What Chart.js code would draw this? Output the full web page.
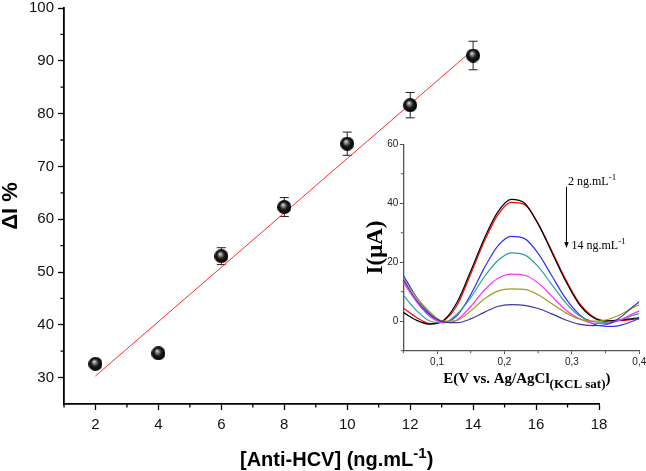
<!DOCTYPE html>
<html>
<head>
<meta charset="utf-8">
<script src="https://cdn.jsdelivr.net/npm/chart.js@4.4.1/dist/chart.umd.min.js"></script>
<style>
  body { margin: 0; background: #fff; }
  #wrap { position: relative; width: 646px; height: 471px; }
  #main { position: absolute; left: 0; top: 0; }
  #inset { position: absolute; left: 330px; top: 130px; }
</style>
</head>
<body>
<div id="wrap">
  <canvas id="main" width="646" height="471"></canvas>
  <canvas id="inset" width="316" height="275"></canvas>
</div>
<script>
// main plot: calibration
const conc = [2, 4, 6, 8, 10, 12, 14];
const deltaI = [32.6, 34.6, 53.0, 62.3, 74.3, 81.6, 91.0];
const errI = [0.5, 0.5, 1.6, 1.8, 2.2, 2.4, 2.7];
const fitX = [2, 14];
const fitY = [30.3, 92.1];
const xTicks = [2, 4, 6, 8, 10, 12, 14, 16, 18];
const xMinor = [1, 3, 5, 7, 9, 11, 13, 15, 17];
const yTicks = [30, 40, 50, 60, 70, 80, 90, 100];
const yMinor = [35, 45, 55, 65, 75, 85, 95];

// inset: DPV curves
const potential = [0.05, 0.07, 0.09, 0.11, 0.13, 0.15, 0.17, 0.19, 0.21, 0.23, 0.25, 0.27, 0.29, 0.31, 0.33, 0.35, 0.37, 0.39, 0.40];
const curBlack   = [3, 0.3, -1, 0.3, 6.5, 17, 28, 37, 41.3, 40, 33, 23.5, 14, 6, 1.5, 0, 0.4, 0.9, 1.2];
const curRed     = [4.5, 1.2, -0.8, 0.2, 5.5, 16, 27, 36, 40.3, 39.5, 33, 24, 14.5, 6.5, 1.8, 0.2, 0.2, 0.6, 0.9];
const curBlue    = [15.6, 8, 2.5, -0.3, 2, 9, 18, 25.5, 28.8, 28, 23, 15.5, 8, 2.5, -0.8, -1.8, -1.5, 0, 1];
const curTeal    = [8.8, 3.5, 0, -0.5, 2.5, 8, 15, 20.5, 23.2, 22.5, 18.5, 12.5, 6.5, 2, 0, -0.4, 0.3, 2, 2.6];
const curMagenta = [13.1, 6.5, 1.5, -0.5, 0.5, 5, 10.5, 14.5, 16, 15.6, 13, 8.5, 4, 1, -0.6, -0.8, 0.3, 2.5, 3.5];
const curOlive   = [14.5, 8, 3, 0, 0.3, 3.5, 7.5, 10.2, 11, 10.8, 9, 6, 3, 0.8, 0, 0.4, 2, 4.5, 5.6];
const curNavy    = [14, 7, 2, -0.2, -0.5, 0.8, 3, 5, 5.6, 5.4, 4.3, 2.5, 0.5, -1, -1.5, -1.2, 1, 4.8, 6.6];
const insetXTicks = [0.1, 0.2, 0.3, 0.4];
const insetXMinor = [0.05, 0.15, 0.25, 0.35];
const insetYTicks = [0, 20, 40, 60];
const insetYMinor = [-10, 10, 30, 50];

const SANS = '"Liberation Sans", Arial, sans-serif';
const SERIF = '"Liberation Serif", "Times New Roman", serif';

function makeSphere(r) {
    const c = document.createElement('canvas');
    c.width = c.height = r * 2;
    const g = c.getContext('2d');
    const grad = g.createRadialGradient(r * 0.8, r * 0.65, 0, r, r, r);
    grad.addColorStop(0, '#f2f2f2');
    grad.addColorStop(0.22, '#909090');
    grad.addColorStop(0.55, '#1a1a1a');
    grad.addColorStop(1, '#000');
    g.fillStyle = grad;
    g.beginPath();
    g.arc(r, r, r, 0, Math.PI * 2);
    g.fill();
    return c;
}

// text with a raised (or lowered) part, then a tail
function drawScript(ctx, x, y, base, baseFont, extra, extraFont, shift, tail) {
    ctx.font = baseFont;
    ctx.fillText(base, x, y);
    x += ctx.measureText(base).width;
    ctx.font = extraFont;
    ctx.fillText(extra, x, y + shift);
    x += ctx.measureText(extra).width;
    if (tail) {
        ctx.font = baseFont;
        ctx.fillText(tail, x, y);
    }
}

const minorTicks = {
    id: 'minorTicks',
    afterDraw(chart, args, o) {
        const { ctx, scales: { x, y } } = chart;
        ctx.save();
        ctx.strokeStyle = o.color;
        ctx.lineWidth = o.width;
        ctx.beginPath();
        o.x.forEach(v => {
            const px = x.getPixelForValue(v);
            ctx.moveTo(px, x.top);
            ctx.lineTo(px, x.top + o.length);
        });
        o.y.forEach(v => {
            const py = y.getPixelForValue(v);
            ctx.moveTo(y.right, py);
            ctx.lineTo(y.right - o.length, py);
        });
        ctx.stroke();
        ctx.restore();
    }
};

const errorBars = {
    id: 'errorBars',
    beforeDatasetsDraw(chart) {
        const { ctx, scales: { x, y } } = chart;
        ctx.save();
        ctx.strokeStyle = '#222';
        ctx.lineWidth = 1;
        ctx.beginPath();
        conc.forEach((c, i) => {
            const px = x.getPixelForValue(c);
            const top = y.getPixelForValue(deltaI[i] + errI[i]);
            const bot = y.getPixelForValue(deltaI[i] - errI[i]);
            ctx.moveTo(px, top); ctx.lineTo(px, bot);
            ctx.moveTo(px - 4.5, top); ctx.lineTo(px + 4.5, top);
            ctx.moveTo(px - 4.5, bot); ctx.lineTo(px + 4.5, bot);
        });
        ctx.stroke();
        ctx.restore();
    }
};

const mainXTitle = {
    id: 'mainXTitle',
    afterDraw(chart) {
        const { ctx, scales: { x } } = chart;
        ctx.save();
        ctx.fillStyle = '#000';
        ctx.textBaseline = 'alphabetic';
        drawScript(ctx, x.left + 176, x.top + 62, '[Anti-HCV] (ng.mL', 'bold 20px ' + SANS,
            '-1', 'bold 15px ' + SANS, -8, ')');
        ctx.restore();
    }
};

const insetText = {
    id: 'insetText',
    afterDraw(chart) {
        const { ctx, scales: { x, y } } = chart;
        ctx.save();
        ctx.fillStyle = '#000';
        ctx.strokeStyle = '#000';
        ctx.textBaseline = 'alphabetic';
        // axis title with subscript
        drawScript(ctx, x.left + 40, x.top + 32.5, 'E(V vs. Ag/AgCl', 'bold 15px ' + SERIF,
            '(KCL sat)', 'bold 13px ' + SERIF, 5, ')');
        // concentration arrow
        const ax = x.getPixelForValue(0.292);
        const y1 = y.getPixelForValue(45.6);
        const y2 = y.getPixelForValue(24.8);
        ctx.lineWidth = 1;
        ctx.beginPath();
        ctx.moveTo(ax, y1);
        ctx.lineTo(ax, y2 - 5);
        ctx.stroke();
        ctx.beginPath();
        ctx.moveTo(ax - 2.2, y2 - 6);
        ctx.lineTo(ax + 2.2, y2 - 6);
        ctx.lineTo(ax, y2);
        ctx.closePath();
        ctx.fill();
        drawScript(ctx, ax + 1.5, y1 - 1.5, '2 ng.mL', '12px ' + SERIF, '-1', '9px ' + SERIF, -5);
        drawScript(ctx, ax + 5, y2 + 1, '14 ng.mL', '12px ' + SERIF, '-1', '9px ' + SERIF, -5);
        ctx.restore();
    }
};

const sphere = makeSphere(7);

const ctx1 = document.getElementById('main').getContext('2d');
const mainChart = new Chart(ctx1, {
    type: 'scatter',
    data: {
        datasets: [{
            label: 'ΔI %',
            data: conc.map((c, i) => ({ x: c, y: deltaI[i] })),
            pointStyle: sphere,
            pointRadius: 7,
            showLine: false
        }, {
            label: 'fit',
            data: fitX.map((c, i) => ({ x: c, y: fitY[i] })),
            showLine: true,
            borderColor: '#ff2a2a',
            borderWidth: 1,
            pointRadius: 0,
            fill: false
        }]
    },
    options: {
        responsive: false,
        animation: false,
        layout: { padding: { left: 0, top: 6, right: 47, bottom: 0 } },
        plugins: {
            legend: { display: false },
            tooltip: { enabled: false },
            minorTicks: { x: xMinor, y: yMinor, length: 3.5, color: '#000', width: 1.3 }
        },
        scales: {
            x: {
                type: 'linear',
                min: 1,
                max: 18,
                afterBuildTicks: s => { s.ticks = xTicks.map(v => ({ value: v })); },
                afterFit: s => { s.height = 67; s.paddingLeft = 0; s.paddingRight = 0; },
                grid: { drawOnChartArea: false, tickLength: 6, tickColor: '#000', tickWidth: 1.3 },
                border: { color: '#000', width: 1.8 },
                ticks: { color: '#111', padding: 6, font: { family: SANS, size: 15 } }
            },
            y: {
                min: 25,
                max: 100,
                afterBuildTicks: s => { s.ticks = yTicks.map(v => ({ value: v })); },
                afterFit: s => { s.width = 64; s.paddingTop = 0; s.paddingBottom = 0; },
                grid: { drawOnChartArea: false, tickLength: 6, tickColor: '#000', tickWidth: 1.3 },
                border: { color: '#000', width: 1.8 },
                ticks: { color: '#111', padding: 4, font: { family: SANS, size: 15 } },
                title: {
                    display: true,
                    text: 'ΔI %',
                    color: '#000',
                    padding: { top: 0, bottom: 0 },
                    font: { family: SANS, size: 22, weight: 'bold', lineHeight: 1 }
                }
            }
        }
    },
    plugins: [errorBars, minorTicks, mainXTitle]
});

const curves = [
    ['navy', curNavy, '#3a3aa0'],
    ['olive', curOlive, '#9e9e1e'],
    ['magenta', curMagenta, '#ff2eff'],
    ['teal', curTeal, '#2e9e9e'],
    ['blue', curBlue, '#2f2fff'],
    ['black', curBlack, '#000000'],
    ['red', curRed, '#ff0000']
];

const ctx2 = document.getElementById('inset').getContext('2d');
const insetChart = new Chart(ctx2, {
    type: 'line',
    data: {
        datasets: curves.map(([name, vals, col]) => ({
            label: name,
            data: potential.map((p, i) => ({ x: p, y: vals[i] })),
            borderColor: col,
            borderWidth: 1.2,
            pointRadius: 0,
            cubicInterpolationMode: 'monotone',
            fill: false
        }))
    },
    options: {
        responsive: false,
        animation: false,
        layout: { padding: { left: 0, top: 14.3, right: 6.7, bottom: 0 } },
        plugins: {
            legend: { display: false },
            tooltip: { enabled: false },
            minorTicks: { x: insetXMinor, y: insetYMinor, length: 2.5, color: '#555', width: 1 }
        },
        scales: {
            x: {
                type: 'linear',
                min: 0.05,
                max: 0.4,
                afterBuildTicks: s => { s.ticks = insetXTicks.map(v => ({ value: v })); },
                afterFit: s => { s.height = 54.3; s.paddingLeft = 0; s.paddingRight = 0; },
                grid: { drawOnChartArea: false, tickLength: 3.5, tickColor: '#555', tickWidth: 1 },
                border: { color: '#555', width: 1.3 },
                ticks: {
                    color: '#222',
                    padding: 2,
                    font: { family: SANS, size: 10 },
                    callback: v => v.toFixed(1).replace('.', ',')
                }
            },
            y: {
                min: -10,
                max: 60,
                afterBuildTicks: s => { s.ticks = insetYTicks.map(v => ({ value: v })); },
                afterFit: s => { s.width = 73.3; s.paddingTop = 0; s.paddingBottom = 0; },
                grid: { drawOnChartArea: false, tickLength: 3.5, tickColor: '#555', tickWidth: 1 },
                border: { color: '#555', width: 1.3 },
                ticks: { color: '#222', padding: 1.5, font: { family: SANS, size: 10 } },
                title: {
                    display: true,
                    text: 'I(μA)',
                    color: '#000',
                    padding: { top: 35, bottom: 0 },
                    font: { family: SERIF, size: 23, weight: 'bold', lineHeight: 1 }
                }
            }
        }
    },
    plugins: [minorTicks, insetText]
});
</script>
</body>
</html>
